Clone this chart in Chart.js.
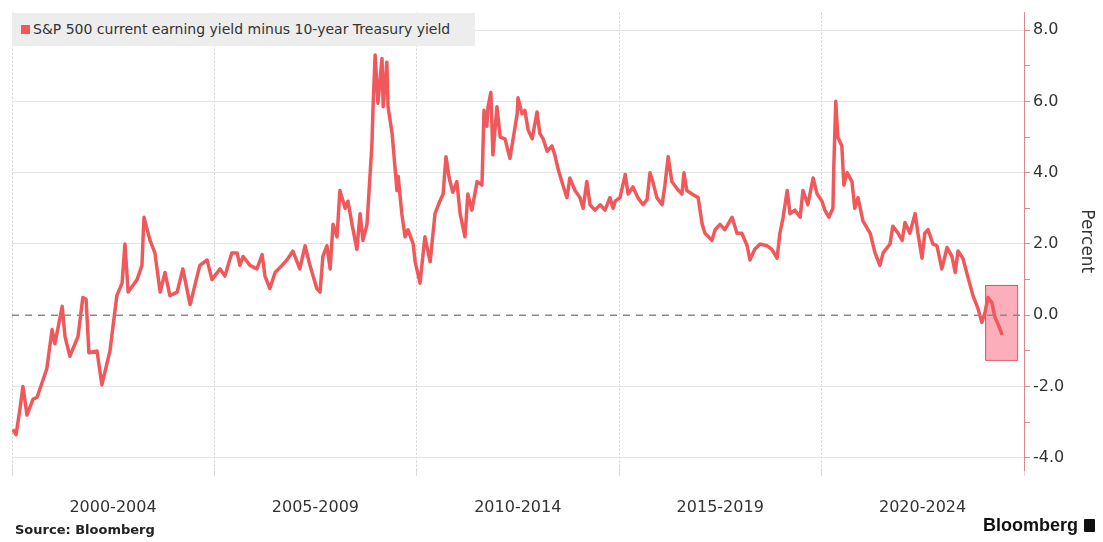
<!DOCTYPE html>
<html>
<head>
<meta charset="utf-8">
<script src="https://cdn.jsdelivr.net/npm/chart.js@4"></script>
<style>
  html, body { margin: 0; padding: 0; background: #fff; }
  #wrap { position: relative; width: 1103px; height: 542px; overflow: hidden; font-family: "DejaVu Sans", Verdana, sans-serif; }
  #chart { position: absolute; left: 0; top: 0; }
  .legend { position: absolute; left: 12px; top: 13px; width: 463px; height: 33px; background: #ededed;
            font-size: 14px; color: #333; line-height: 33px; white-space: nowrap; }
  .legend i { display: inline-block; width: 9px; height: 9px; background: #f0595c; margin: 0 3px 0 9px; vertical-align: 0px; }
  .source { position: absolute; left: 15px; top: 522px; font-size: 13px; font-weight: bold; color: #222; }
  .brand { position: absolute; right: 8px; top: 515px; font-family: "Liberation Sans", Arial, sans-serif; font-size: 18px; font-weight: bold; color: #111; }
  .brand span { display: inline-block; width: 11px; height: 13px; background: #111; margin-left: 6px; vertical-align: -1px; border-radius: 1px; }
</style>
</head>
<body>
<div id="wrap">
  <canvas id="chart" width="1103" height="542"></canvas>
  <div class="legend"><i></i>S&amp;P 500 current earning yield minus 10-year Treasury yield</div>
  <div class="source">Source: Bloomberg</div>
  <div class="brand">Bloomberg<span></span></div>
</div>
<script>
// S&P 500 earnings yield minus 10-year Treasury yield, percent
const years = [
  2000.02, 2000.10, 2000.20, 2000.27, 2000.37, 2000.52, 2000.62, 2000.74, 2000.86, 2000.99,
  2001.06, 2001.24, 2001.31, 2001.43, 2001.63, 2001.75, 2001.83, 2001.90, 2002.10, 2002.22,
  2002.42, 2002.59, 2002.72, 2002.79, 2002.87, 2003.09, 2003.21, 2003.26, 2003.41, 2003.53,
  2003.66, 2003.78, 2003.90, 2004.08, 2004.22, 2004.40, 2004.64, 2004.82, 2004.94, 2005.14,
  2005.26, 2005.43, 2005.56, 2005.63, 2005.71, 2005.88, 2006.05, 2006.18, 2006.25, 2006.37,
  2006.50, 2006.67, 2006.79, 2006.94, 2007.11, 2007.24, 2007.36, 2007.53, 2007.61, 2007.68,
  2007.78, 2007.86, 2007.93, 2008.03, 2008.10, 2008.23, 2008.30, 2008.40, 2008.52, 2008.60,
  2008.67, 2008.77, 2008.84, 2008.89, 2008.92, 2008.97, 2009.04, 2009.14, 2009.17, 2009.26,
  2009.29, 2009.39, 2009.51, 2009.54, 2009.63, 2009.71, 2009.78, 2009.91, 2009.96, 2010.08,
  2010.20, 2010.33, 2010.45, 2010.57, 2010.65, 2010.72, 2010.80, 2010.89, 2010.99, 2011.07,
  2011.19, 2011.26, 2011.36, 2011.49, 2011.61, 2011.66, 2011.73, 2011.76, 2011.83, 2011.88,
  2011.98, 2012.06, 2012.18, 2012.30, 2012.38, 2012.48, 2012.50, 2012.60, 2012.67, 2012.75,
  2012.85, 2012.97, 2013.04, 2013.12, 2013.22, 2013.34, 2013.41, 2013.49, 2013.61, 2013.71,
  2013.78, 2013.91, 2014.03, 2014.11, 2014.20, 2014.28, 2014.40, 2014.53, 2014.65, 2014.77,
  2014.85, 2014.90, 2015.02, 2015.15, 2015.22, 2015.34, 2015.46, 2015.59, 2015.69, 2015.76,
  2015.83, 2015.93, 2016.06, 2016.13, 2016.21, 2016.30, 2016.43, 2016.55, 2016.60, 2016.67,
  2016.80, 2016.95, 2017.05, 2017.12, 2017.29, 2017.37, 2017.49, 2017.61, 2017.79, 2017.91,
  2018.03, 2018.16, 2018.23, 2018.35, 2018.48, 2018.65, 2018.77, 2018.90, 2018.97, 2019.05,
  2019.15, 2019.22, 2019.34, 2019.47, 2019.54, 2019.66, 2019.79, 2019.89, 2020.01, 2020.08,
  2020.18, 2020.28, 2020.30, 2020.35, 2020.40, 2020.50, 2020.55, 2020.63, 2020.75, 2020.82,
  2020.90, 2021.02, 2021.20, 2021.32, 2021.44, 2021.52, 2021.69, 2021.76, 2021.89, 2021.99,
  2022.06, 2022.18, 2022.31, 2022.38, 2022.48, 2022.55, 2022.63, 2022.75, 2022.85, 2022.97,
  2023.10, 2023.22, 2023.30, 2023.37, 2023.49, 2023.62, 2023.74, 2023.86, 2023.96, 2024.04,
  2024.11, 2024.21, 2024.28, 2024.36, 2024.46
];
const spread = [
  -3.20, -3.35, -2.60, -2.00, -2.80, -2.35, -2.30, -1.90, -1.50, -0.40,
  -0.80, 0.25, -0.60, -1.15, -0.60, 0.50, 0.45, -1.05, -1.00, -1.95,
  -1.00, 0.55, 0.90, 2.00, 0.65, 1.00, 1.40, 2.75, 2.10, 1.75,
  0.65, 1.20, 0.55, 0.65, 1.30, 0.30, 1.40, 1.55, 1.00, 1.30,
  1.10, 1.75, 1.75, 1.40, 1.65, 1.40, 1.30, 1.70, 1.10, 0.75,
  1.20, 1.40, 1.55, 1.80, 1.30, 1.95, 1.40, 0.75, 0.65, 1.65,
  1.95, 1.30, 2.55, 2.20, 3.50, 3.00, 3.20, 2.55, 1.85, 2.85,
  2.10, 2.55, 3.85, 4.75, 5.85, 7.30, 5.95, 7.20, 5.85, 7.10,
  5.85, 5.10, 3.50, 3.90, 2.85, 2.20, 2.40, 2.00, 1.50, 0.90,
  2.20, 1.50, 2.85, 3.20, 3.40, 4.45, 3.85, 3.45, 3.75, 2.85,
  2.20, 3.40, 2.95, 3.75, 3.65, 5.75, 5.30, 5.85, 6.25, 4.50,
  5.85, 5.00, 4.95, 4.40, 4.95, 5.65, 6.10, 5.65, 5.75, 5.20,
  4.95, 5.70, 5.10, 4.95, 4.60, 4.75, 4.50, 4.10, 3.65, 3.30,
  3.85, 3.50, 3.30, 3.00, 3.75, 3.10, 2.95, 3.10, 2.95, 3.30,
  3.00, 3.20, 3.30, 3.95, 3.40, 3.60, 3.30, 3.10, 3.25, 4.00,
  3.75, 3.30, 3.10, 3.65, 4.45, 3.75, 3.55, 3.40, 4.00, 3.50,
  3.40, 3.30, 2.55, 2.30, 2.10, 2.40, 2.55, 2.40, 2.75, 2.30,
  2.30, 1.95, 1.55, 1.85, 2.00, 1.95, 1.85, 1.60, 2.30, 2.75,
  3.50, 2.85, 2.95, 2.75, 3.50, 3.10, 3.85, 3.40, 3.20, 2.95,
  2.75, 3.00, 4.10, 6.00, 5.00, 4.75, 3.65, 4.00, 3.75, 3.00,
  3.30, 2.65, 2.30, 1.75, 1.40, 1.75, 2.00, 2.50, 2.30, 2.10,
  2.60, 2.30, 2.85, 2.30, 1.60, 2.30, 2.40, 2.00, 1.95, 1.30,
  1.90, 1.65, 1.20, 1.80, 1.60, 1.05, 0.55, 0.20, -0.20, 0.10,
  0.50, 0.35, -0.05, -0.25, -0.55
];

// 5-year bands along the bottom, labelled between the grid lines
const bandStarts = [2000, 2005, 2010, 2015, 2020, 2025];
const bandLabels = ['2000-2004', '2005-2009', '2010-2014', '2015-2019', '2020-2024', ''];

// highlighted recent window: x from/to, y low/high
const highlight = { from: 2024.04, to: 2024.83, low: -1.25, high: 0.85 };

const lineColor = '#f0595c';
const axisColor = '#d98a8a';

const highlightBox = {
  id: 'highlightBox',
  beforeDatasetsDraw(chart) {
    const { ctx, scales: { x, y } } = chart;
    const x1 = x.getPixelForValue(highlight.from);
    const x2 = x.getPixelForValue(highlight.to);
    const y1 = y.getPixelForValue(highlight.high);
    const y2 = y.getPixelForValue(highlight.low);
    ctx.save();
    ctx.fillStyle = 'rgba(250, 120, 140, 0.6)';
    ctx.strokeStyle = '#d9555f';
    ctx.lineWidth = 1;
    ctx.fillRect(x1, y1, x2 - x1, y2 - y1);
    ctx.strokeRect(x1 + 0.5, y1 + 0.5, x2 - x1, y2 - y1);
    ctx.restore();
  }
};

new Chart(document.getElementById('chart'), {
  type: 'line',
  data: {
    datasets: [
      {
        label: 'Zero',
        data: [{ x: bandStarts[0], y: 0 }, { x: bandStarts[bandStarts.length - 1], y: 0 }],
        borderColor: '#8a8a8a',
        borderWidth: 1.5,
        borderDash: [7, 6],
        pointRadius: 0
      },
      {
        label: 'S&P 500 current earning yield minus 10-year Treasury yield',
        data: years.map((yr, i) => ({ x: yr, y: spread[i] })),
        borderColor: lineColor,
        borderWidth: 3.5,
        borderJoinStyle: 'round',
        pointRadius: 0,
        tension: 0
      }
    ]
  },
  options: {
    responsive: false,
    animation: false,
    layout: { padding: { left: 12, top: 0, right: 0, bottom: 0 } },
    plugins: {
      legend: { display: false },
      tooltip: { enabled: false }
    },
    scales: {
      x: {
        type: 'linear',
        min: 2000,
        max: 2025,
        afterBuildTicks: scale => { scale.ticks = bandStarts.map(v => ({ value: v })); },
        afterFit: scale => {
          scale.height = 72;
          // labels sit between grid lines, so no edge room is needed for them
          scale.paddingLeft = 0;
          scale.paddingRight = 0;
        },
        ticks: {
          callback: (v, i) => bandLabels[i],
          labelOffset: 101,
          padding: 22,
          maxRotation: 0,
          autoSkip: false,
          color: '#333',
          font: { family: 'DejaVu Sans', size: 16 }
        },
        grid: { color: '#cfcfcf', lineWidth: 1, tickLength: 6, tickColor: '#dcdcdc' },
        border: { display: false, dash: [2, 2] }
      },
      y: {
        position: 'right',
        min: -4.34,
        max: 8.49,
        afterFit: scale => { scale.width = 79; },
        ticks: {
          stepSize: 1,
          includeBounds: false,
          padding: 3,
          color: '#333',
          font: { family: 'DejaVu Sans', size: 16 },
          callback: v => (Math.round(v) % 2 === 0 ? v.toFixed(1) : '')
        },
        grid: {
          color: ctx => (ctx.tick && ctx.tick.value % 2 === 0 && ctx.tick.value !== 0 ? '#e4e4e4' : 'rgba(0,0,0,0)'),
          tickColor: axisColor,
          tickLength: 6,
          lineWidth: 1
        },
        border: { display: true, color: axisColor, width: 1 },
        title: {
          display: true,
          text: 'Percent',
          color: '#333',
          font: { family: 'DejaVu Sans', size: 17 },
          padding: { top: 6, bottom: 0 }
        }
      }
    }
  },
  plugins: [highlightBox]
});
</script>
</body>
</html>
